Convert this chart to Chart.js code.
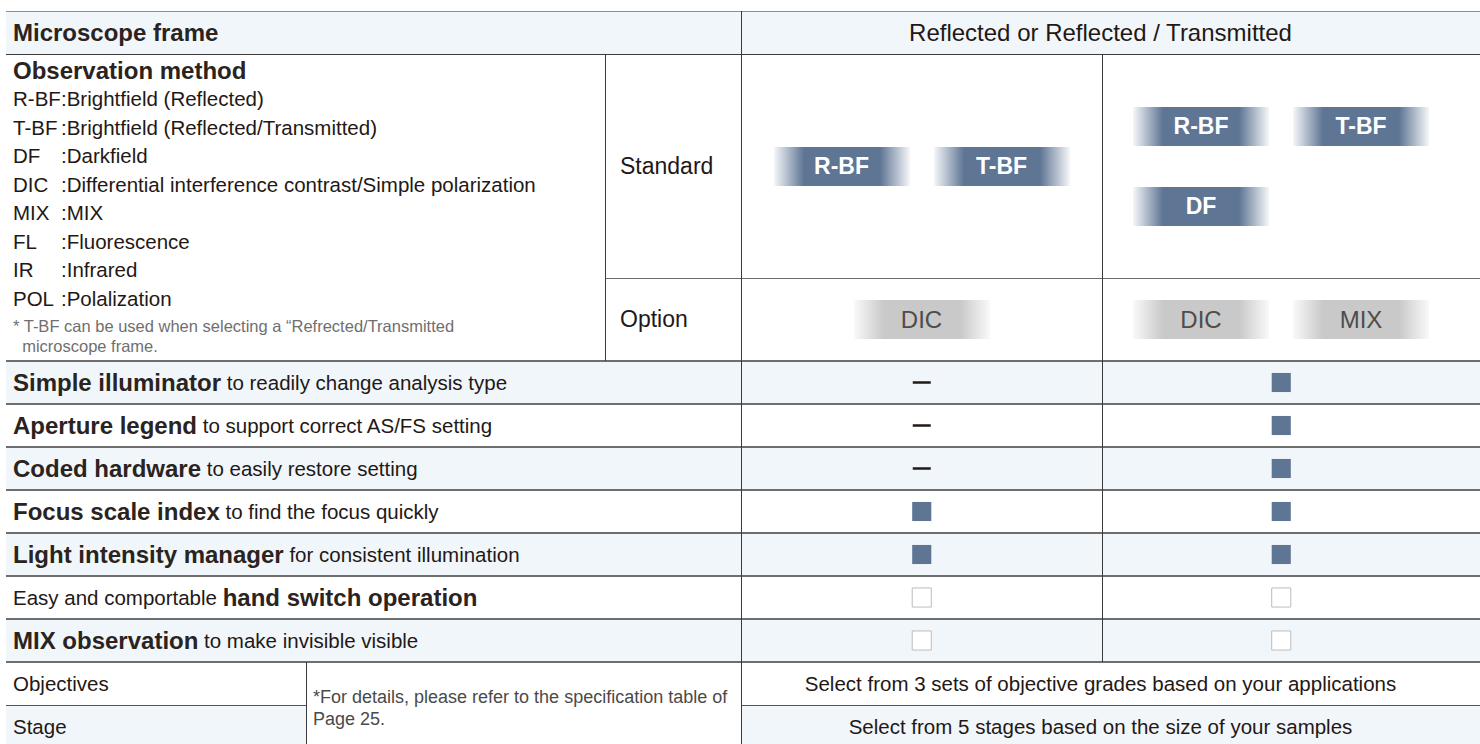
<!DOCTYPE html>
<html>
<head>
<meta charset="utf-8">
<title>Microscope frame comparison</title>
<script src="https://cdn.jsdelivr.net/npm/chart.js@4.4.1/dist/chart.umd.min.js"></script>
<style>
  html, body { margin: 0; padding: 0; background: #fff; }
  body { width: 1480px; height: 744px; overflow: hidden; position: relative;
         font-family: "Liberation Sans", Arial, Helvetica, sans-serif; color: #231815; }
  .abs { position: absolute; box-sizing: border-box; }
  .cell { display: flex; align-items: center; white-space: nowrap; }
  .center { justify-content: center; }
  .b { font-weight: 700; color: #2a2320; }
  .badge { display: flex; align-items: center; justify-content: center; width: 136px; height: 39px; font-size: 23px; }
  .kit-std { color: #fff; font-weight: 700; background: linear-gradient(to right, rgba(94,117,148,0.06) 0px, #5e7594 30px, #5e7594 106px, rgba(94,117,148,0.06) 136px); }
  .kit-opt { color: #4d4d4d; font-size: 24px; background: linear-gradient(to right, rgba(200,200,200,0.1) 0px, #c9c9c9 30px, #c9c9c9 106px, rgba(200,200,200,0.1) 136px); }
  .kits { display: flex; flex-wrap: wrap; gap: 41px 24px; width: 296px; }
  #marks { z-index: 5; }
</style>
</head>
<body>
<canvas id="marks" class="abs"></canvas>
<script>
// Textos y datos de la tabla
const frameHeader = ['Microscope frame', 'Reflected or Reflected / Transmitted'];
const methodTitle = 'Observation method';
const methodCodes = ['R-BF', 'T-BF', 'DF', 'DIC', 'MIX', 'FL', 'IR', 'POL'];
const methodNames = ['Brightfield (Reflected)', 'Brightfield (Reflected/Transmitted)', 'Darkfield',
  'Differential interference contrast/Simple polarization', 'MIX', 'Fluorescence', 'Infrared', 'Polalization'];
const methodNote = ['* T-BF can be used when selecting a \u201cRefrected/Transmitted', '\u00a0\u00a0microscope frame.'];
const kitLabels = ['Standard', 'Option'];
const frames = ['Reflected', 'Reflected / Transmitted'];
const standardKits = [['R-BF', 'T-BF'], ['R-BF', 'T-BF', 'DF']];
const optionKits = [['DIC'], ['DIC', 'MIX']];
const featureLead = ['', '', '', '', '', 'Easy and comportable ', ''];
const featureBold = ['Simple illuminator', 'Aperture legend', 'Coded hardware', 'Focus scale index',
  'Light intensity manager', 'hand switch operation', 'MIX observation'];
const featureTail = [' to readily change analysis type', ' to support correct AS/FS setting', ' to easily restore setting',
  ' to find the focus quickly', ' for consistent illumination', '', ' to make invisible visible'];
// std = estándar (cuadro lleno), opt = opcional (cuadro vacío), none = no disponible (guion)
const reflectedMarks = ['none', 'none', 'none', 'std', 'std', 'opt', 'opt'];
const transmittedMarks = ['std', 'std', 'std', 'std', 'std', 'opt', 'opt'];
const specLabels = ['Objectives', 'Stage'];
const specNote = ['*For details, please refer to the specification table of', 'Page 25.'];
const specText = ['Select from 3 sets of objective grades based on your applications',
  'Select from 5 stages based on the size of your samples'];

// Geometría
const XL = 6, XA = 605, XB = 741, XC = 1102, XD = 1460, XR = 1480, XS = 306;
const YT = 11, YH = 54, YO = 278, YF = 361, RH = 43;
const YS = YF + RH * featureBold.length;
const PAD = 7;
const BLUE = '#f1f6fb';

function put(x, y, w, h, cls, html, style) {
  const d = document.createElement('div');
  d.className = 'abs ' + (cls || '');
  d.style.left = x + 'px'; d.style.top = y + 'px';
  d.style.width = w + 'px'; d.style.height = h + 'px';
  if (style) Object.assign(d.style, style);
  if (html !== undefined) d.innerHTML = html;
  document.body.appendChild(d);
  return d;
}
function hline(x1, x2, y, color, t) { put(x1, y, x2 - x1, t || 1, '', undefined, { background: color }); }
function vline(x, y1, y2, color, t) { put(x, y1, t || 1, y2 - y1, '', undefined, { background: color }); }

// Fondos
put(XL, YT, XR - XL, YH - YT, '', undefined, { background: BLUE });
featureBold.forEach((f, i) => {
  if (i % 2 === 0) put(XL, YF + i * RH, XR - XL, RH, '', undefined, { background: BLUE });
});
put(XL, YS + RH, XS - XL, RH, '', undefined, { background: BLUE });
put(XB, YS + RH, XR - XB, RH, '', undefined, { background: BLUE });

// Cabecera
put(XL + PAD, YT, XB - XL, YH - YT, 'cell b', frameHeader[0], { fontSize: '24px' });
put(XB, YT, XD - XB, YH - YT, 'cell center', frameHeader[1], { fontSize: '24px' });

// Métodos de observación
put(XL + PAD, YH + 2, 500, 30, 'cell b', methodTitle, { fontSize: '24px' });
put(XL + PAD, 85, 590, 230, '', methodCodes.map((c, i) =>
  '<div style="height:28.5px;line-height:28.5px"><span style="display:inline-block;min-width:48px">' + c + '</span>:' + methodNames[i] + '</div>').join(''),
  { fontSize: '20.5px' });
put(XL + PAD, 316, 590, 40, '', methodNote.join('<br>'), { fontSize: '16.5px', lineHeight: '20px', color: '#6f6f6f', whiteSpace: 'pre' });

put(XA + 15, YH, XB - XA - 15, YO - YH, 'cell', kitLabels[0], { fontSize: '23px' });
put(XA + 15, YO, XB - XA - 15, YF - YO, 'cell', kitLabels[1], { fontSize: '23px' });

function kitCell(x1, x2, y1, y2, kits, cls) {
  const html = '<div class="kits">' + kits.map(k => '<div class="badge ' + cls + '">' + k + '</div>').join('') + '</div>';
  put(x1, y1, x2 - x1, y2 - y1, 'cell center', html);
}
kitCell(XB, XC, YH, YO, standardKits[0], 'kit-std');
kitCell(XC, XD, YH, YO, standardKits[1], 'kit-std');
kitCell(XB, XC, YO, YF, optionKits[0], 'kit-opt');
kitCell(XC, XD, YO, YF, optionKits[1], 'kit-opt');
// centrar un solo distintivo
document.querySelectorAll('.kits').forEach(k => { if (k.children.length === 1) k.style.justifyContent = 'center'; });

// Filas de características
featureBold.forEach((f, i) => {
  const html = (featureLead[i] ? '<span style="font-size:20.5px">' + featureLead[i] + '</span>' : '') +
    '<span class="b" style="font-size:24px">' + f + '</span>' +
    (featureTail[i] ? '<span style="font-size:20.5px">' + featureTail[i] + '</span>' : '');
  put(XL + PAD, YF + i * RH, XB - XL - PAD, RH, 'cell', html, { whiteSpace: 'pre' });
});

// Objetivos y platina
specLabels.forEach((s, i) => {
  put(XL + PAD, YS + i * RH, XS - XL - PAD, RH, 'cell', s, { fontSize: '20.5px' });
  put(XB, YS + i * RH, XD - XB, RH, 'cell center', specText[i], { fontSize: '20.5px' });
});
put(XS + 7, YS + 24, XB - XS - 7, 50, '', specNote.join('<br>'), { fontSize: '18px', lineHeight: '22px', color: '#4a4a4a', whiteSpace: 'nowrap' });

// Líneas
hline(XL, XR, YT, '#8c8c8c', 1);
hline(XL, XR, YH, '#3c3c3c', 1);
hline(XA, XR, YO, '#6c6c6c', 1);
for (let i = 0; i <= featureBold.length; i++) hline(XL, XR, YF + i * RH - 1, '#6e6e6e', 2);
hline(XL, XS, YS + RH, '#555', 1);
hline(XB, XR, YS + RH, '#555', 1);
vline(XB, YT, 744, '#3a3a3a', 1);
vline(XA, YH, YF, '#3a3a3a', 1);
vline(XC, YH, YS, '#3a3a3a', 1);
vline(XS, YS, 744, '#3a3a3a', 1);

// Marcas con Chart.js sobre las filas de características
const markTypes = {
  std: { label: 'Standard', pointStyle: 'rect', pointRadius: 13.5, pointBackgroundColor: '#5e7594', pointBorderColor: '#5e7594', pointBorderWidth: 0 },
  opt: { label: 'Optional', pointStyle: 'rect', pointRadius: 13.5, pointBackgroundColor: '#ffffff', pointBorderColor: '#bcbcbc', pointBorderWidth: 1 },
  none: { label: 'Not available', pointStyle: 'line', pointRadius: 9, pointBackgroundColor: '#231815', pointBorderColor: '#231815', pointBorderWidth: 2.5 }
};
const frameMarks = [reflectedMarks, transmittedMarks];
const datasets = Object.keys(markTypes).map(key => {
  const data = [];
  frameMarks.forEach((marks, f) => marks.forEach((m, i) => {
    if (m === key) data.push({ x: frames[f], y: featureBold[i] });
  }));
  return Object.assign({ data: data, showLine: false, pointHoverRadius: markTypes[key].pointRadius }, markTypes[key]);
});

const canvas = document.getElementById('marks');
const mid1 = (XB + XC) / 2, mid2 = (XC + XD) / 2;
const chartWidth = Math.round((mid2 - mid1) * 2);
const chartLeft = Math.round(mid1 - chartWidth / 4);
canvas.style.left = chartLeft + 'px';
canvas.style.top = YF + 'px';
canvas.width = chartWidth;
canvas.height = RH * featureBold.length;
canvas.style.width = chartWidth + 'px';
canvas.style.height = (RH * featureBold.length) + 'px';

new Chart(canvas.getContext('2d'), {
  type: 'scatter',
  data: { datasets: datasets },
  options: {
    responsive: false,
    animation: false,
    devicePixelRatio: 1,
    layout: { padding: 0, autoPadding: false },
    plugins: { legend: { display: false }, tooltip: { enabled: false } },
    scales: {
      x: { type: 'category', labels: frames, offset: true, display: false },
      y: { type: 'category', labels: featureBold, offset: true, display: false }
    }
  }
});
</script>
</body>
</html>
